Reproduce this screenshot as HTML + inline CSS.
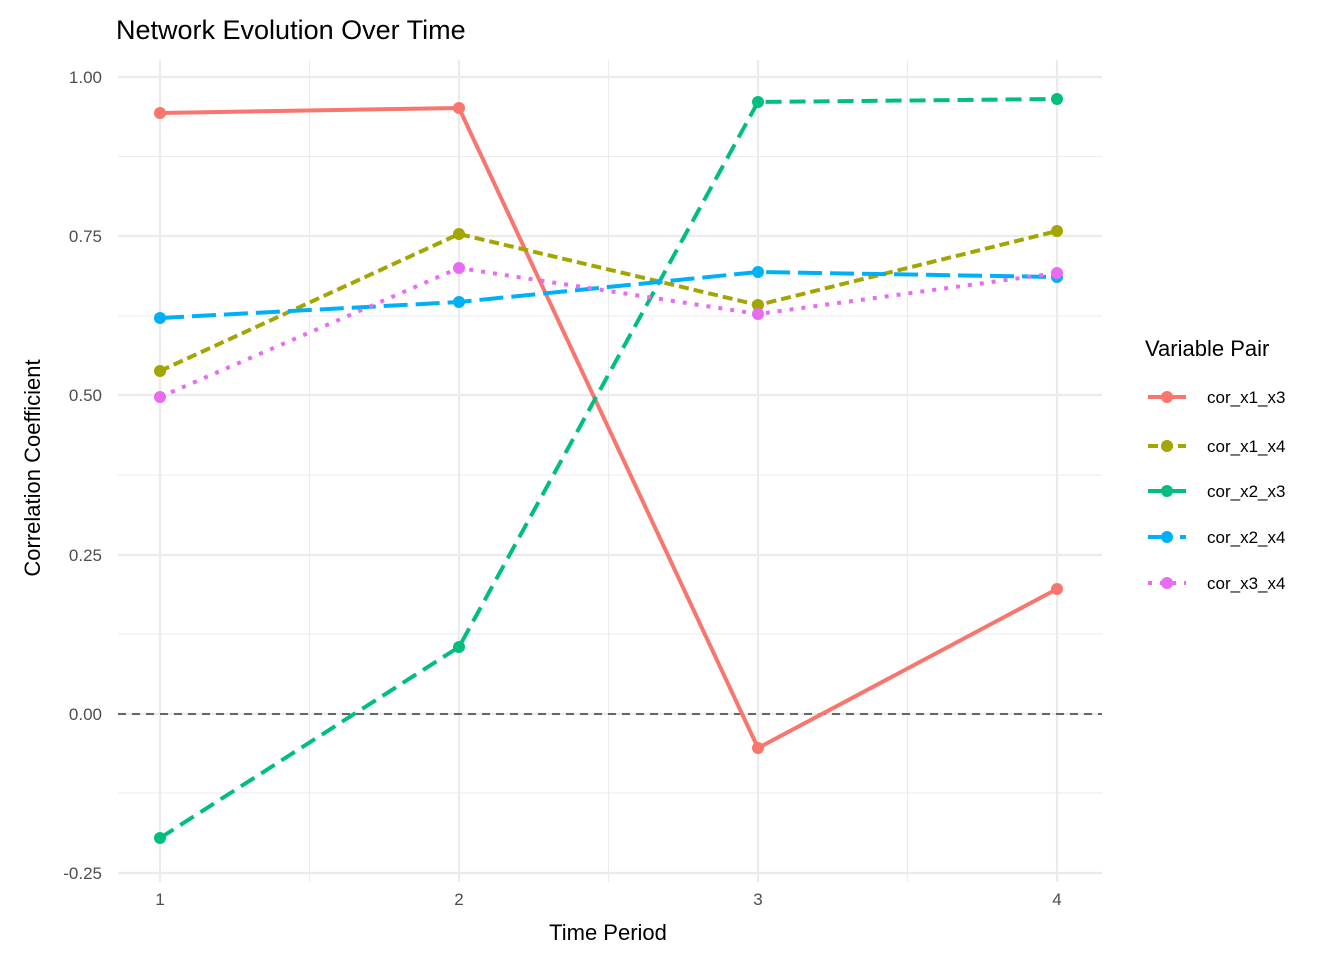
<!DOCTYPE html>
<html><head><meta charset="utf-8"><style>html,body{margin:0;padding:0;background:#fff}svg{display:block}text{font-family:"Liberation Sans",sans-serif}</style></head>
<body>
<svg width="1344" height="960" viewBox="0 0 1344 960" xmlns="http://www.w3.org/2000/svg">
<rect width="1344" height="960" fill="#fff"/>
<g stroke="#ebebeb" stroke-width="1.1">
<line x1="118" x2="1102" y1="156.5" y2="156.5"/><line x1="118" x2="1102" y1="316" y2="316"/><line x1="118" x2="1102" y1="475" y2="475"/><line x1="118" x2="1102" y1="634" y2="634"/><line x1="118" x2="1102" y1="793" y2="793"/>
<line x1="309.5" x2="309.5" y1="60" y2="882"/><line x1="608.5" x2="608.5" y1="60" y2="882"/><line x1="907.5" x2="907.5" y1="60" y2="882"/>
</g>
<g stroke="#ebebeb" stroke-width="2.2">
<line x1="118" x2="1102" y1="77" y2="77"/><line x1="118" x2="1102" y1="236" y2="236"/><line x1="118" x2="1102" y1="395" y2="395"/><line x1="118" x2="1102" y1="555" y2="555"/><line x1="118" x2="1102" y1="714" y2="714"/><line x1="118" x2="1102" y1="873" y2="873"/>
<line x1="160" x2="160" y1="60" y2="882"/><line x1="459" x2="459" y1="60" y2="882"/><line x1="758" x2="758" y1="60" y2="882"/><line x1="1057" x2="1057" y1="60" y2="882"/>
</g>
<line x1="118" x2="1102" y1="714" y2="714" stroke="#666" stroke-width="2" stroke-dasharray="8,6"/>
<g fill="none" stroke-width="4">
<polyline points="160,113 459,108 758,748 1057,589" stroke="#F8766D"/>
<polyline points="160,371 459,234 758,305 1057,231" stroke="#A3A500" stroke-dasharray="10,5"/>
<polyline points="160,838 459,647 758,102 1057,99" stroke="#00BF7D" stroke-dasharray="16,8"/>
<polyline points="160,318 459,302 758,272 1057,277" stroke="#00B0F6" stroke-dasharray="24,8"/>
<polyline points="160,397 459,268 758,314 1057,273" stroke="#E76BF3" stroke-dasharray="4,8"/>
</g>
<g fill="#F8766D"><circle cx="160" cy="113" r="6"/><circle cx="459" cy="108" r="6"/><circle cx="758" cy="748" r="6"/><circle cx="1057" cy="589" r="6"/></g>
<g fill="#A3A500"><circle cx="160" cy="371" r="6"/><circle cx="459" cy="234" r="6"/><circle cx="758" cy="305" r="6"/><circle cx="1057" cy="231" r="6"/></g>
<g fill="#00BF7D"><circle cx="160" cy="838" r="6"/><circle cx="459" cy="647" r="6"/><circle cx="758" cy="102" r="6"/><circle cx="1057" cy="99" r="6"/></g>
<g fill="#00B0F6"><circle cx="160" cy="318" r="6"/><circle cx="459" cy="302" r="6"/><circle cx="758" cy="272" r="6"/><circle cx="1057" cy="277" r="6"/></g>
<g fill="#E76BF3"><circle cx="160" cy="397" r="6"/><circle cx="459" cy="268" r="6"/><circle cx="758" cy="314" r="6"/><circle cx="1057" cy="273" r="6"/></g>
<g font-size="17" fill="#4d4d4d" text-anchor="end">
<text x="102" y="83">1.00</text><text x="102" y="242">0.75</text><text x="102" y="401">0.50</text><text x="102" y="561">0.25</text><text x="102" y="720">0.00</text><text x="102" y="879">-0.25</text>
</g>
<g font-size="17" fill="#4d4d4d" text-anchor="middle">
<text x="160" y="905">1</text><text x="459" y="905">2</text><text x="758" y="905">3</text><text x="1057" y="905">4</text>
</g>
<text x="608" y="940" font-size="22" text-anchor="middle" fill="#000">Time Period</text>
<text transform="translate(40,468) rotate(-90)" font-size="22" text-anchor="middle" fill="#000">Correlation Coefficient</text>
<text x="116" y="39" font-size="27" fill="#000">Network Evolution Over Time</text>
<text x="1145" y="356" font-size="22" fill="#000">Variable Pair</text>
<g stroke-width="4" fill="none">
<line x1="1148" x2="1186" y1="397" y2="397" stroke="#F8766D"/>
<line x1="1148" x2="1186" y1="446" y2="446" stroke="#A3A500" stroke-dasharray="10,5"/>
<line x1="1148" x2="1186" y1="491" y2="491" stroke="#00BF7D" stroke-dasharray="16,8"/>
<line x1="1148" x2="1186" y1="537" y2="537" stroke="#00B0F6" stroke-dasharray="24,8"/>
<line x1="1148" x2="1186" y1="583" y2="583" stroke="#E76BF3" stroke-dasharray="4,8"/>
</g>
<circle cx="1167" cy="397" r="6" fill="#F8766D"/><circle cx="1167" cy="446" r="6" fill="#A3A500"/><circle cx="1167" cy="491" r="6" fill="#00BF7D"/><circle cx="1167" cy="537" r="6" fill="#00B0F6"/><circle cx="1167" cy="583" r="6" fill="#E76BF3"/>
<g font-size="17" fill="#000">
<text x="1207" y="403">cor_x1_x3</text><text x="1207" y="452">cor_x1_x4</text><text x="1207" y="497">cor_x2_x3</text><text x="1207" y="543">cor_x2_x4</text><text x="1207" y="589">cor_x3_x4</text>
</g>
</svg>
</body></html>
